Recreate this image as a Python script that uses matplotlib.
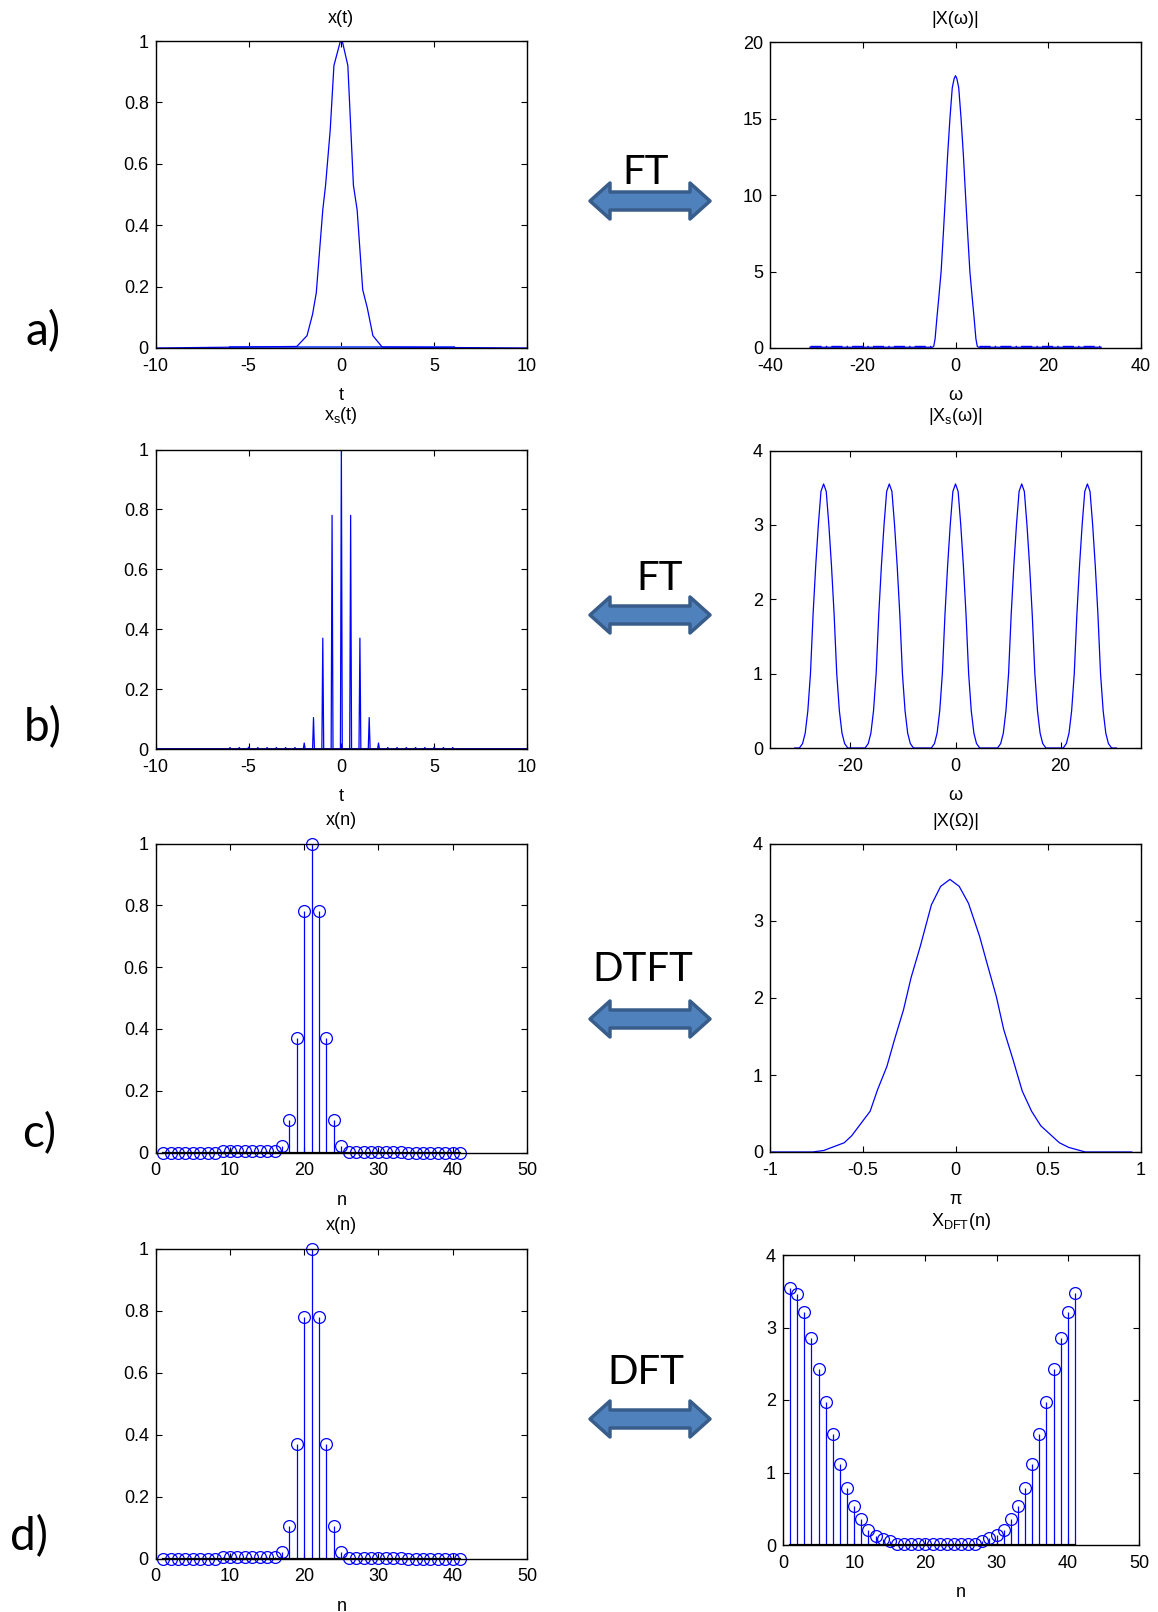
import matplotlib
matplotlib.use("Agg")
import matplotlib.pyplot as plt
import numpy as np
from matplotlib.patches import Polygon

# ---------------------------------------------------------------------------
# Data
# ---------------------------------------------------------------------------

# a) continuous Gaussian pulse x(t) (kinks of the drawn polyline)
t_cont = [-10, -2.4, -1.85, -1.55, -1.35, -1.0, -0.85, -0.6, -0.4, -0.05,
          0.05, 0.35, 0.65, 0.85, 1.15, 1.4, 1.7, 2.2, 10]
x_cont = [0, 0.005, 0.04, 0.11, 0.18, 0.45, 0.53, 0.71, 0.92, 1.0,
          1.0, 0.92, 0.53, 0.45, 0.19, 0.13, 0.04, 0.003, 0]
t_band = [-6, 6]
x_band = [0.003, 0.003]

# a) spectrum |X(w)|
w_cont = [-31.4, -5.0, -4.7, -4.4, -4.0, -3.6, -3.1, -2.6, -2.16, -1.7, -1.2,
          -0.7, -0.3, 0.0, 0.3, 0.7, 1.2, 1.7, 2.16, 2.6, 3.1, 3.6, 4.0, 4.4,
          4.7, 5.0, 31.4]
X_cont = [0.05, 0.05, 0.1, 0.6, 2.0, 3.3, 5.0, 7.6, 10.0, 12.6, 15.0,
          17.0, 17.6, 17.8, 17.6, 17.0, 15.0, 12.6, 10.0, 7.6, 5.0, 3.3, 2.0,
          0.6, 0.1, 0.05, 0.05]

# b) sampled signal x_s(t): sample instants and heights
t_samp = [-6.0, -5.5, -5.0, -4.5, -4.0, -3.5, -3.0, -2.5, -2.0, -1.5, -1.0,
          -0.5, 0.0, 0.5, 1.0, 1.5, 2.0, 2.5, 3.0, 3.5, 4.0, 4.5, 5.0, 5.5, 6.0]
x_samp = [0.005, 0.005, 0.006, 0.005, 0.005, 0.005, 0.005, 0.005, 0.02, 0.105,
          0.37, 0.78, 1.0, 0.78, 0.37, 0.105, 0.02, 0.005, 0.005, 0.005,
          0.005, 0.005, 0.006, 0.005, 0.005]

# b) periodic spectrum |X_s(w)|: replica centres and one replica's profile
rep_centres = [-25.1, -12.6, 0.0, 12.6, 25.1]
rep_offset = [-4.6, -4.0, -3.5, -3.0, -2.5, -2.0, -1.5, -1.0, -0.5, 0.0,
              0.5, 1.0, 1.5, 2.0, 2.5, 3.0, 3.5, 4.0, 4.6]
rep_value = [0.0, 0.06, 0.2, 0.5, 1.0, 1.8, 2.45, 3.0, 3.45, 3.55,
             3.45, 3.0, 2.45, 1.8, 1.0, 0.5, 0.2, 0.06, 0.0]
w_span = [-30.6, 30.6]

# c) / d) discrete sequence x(n)
n_idx = list(range(1, 42))
x_n = [0, 0, 0, 0, 0, 0, 0, 0, 0.005, 0.005, 0.005, 0.005, 0.005, 0.005, 0.005,
       0.005, 0.02, 0.105, 0.37, 0.78, 1.0, 0.78, 0.37, 0.105, 0.02, 0.003,
       0.003, 0.003, 0.003, 0.003, 0.003, 0.003, 0.003, 0, 0, 0, 0, 0, 0, 0, 0]

# c) DTFT magnitude |X(Omega)|, Omega in units of pi
om = [-1.0, -0.77, -0.71, -0.6, -0.56, -0.46, -0.42, -0.37, -0.33, -0.28,
      -0.24, -0.19, -0.13, -0.08, -0.03, 0.02, 0.07, 0.13, 0.17, 0.22, 0.26,
      0.31, 0.36, 0.41, 0.46, 0.56, 0.61, 0.7, 0.95]
X_om = [0.0, 0.0, 0.02, 0.12, 0.21, 0.53, 0.81, 1.11, 1.45, 1.85,
        2.26, 2.67, 3.21, 3.45, 3.54, 3.45, 3.23, 2.8, 2.45, 2.02, 1.59,
        1.2, 0.79, 0.53, 0.34, 0.12, 0.06, 0.0, 0.0]

# d) DFT magnitude
X_dft = [3.55, 3.46, 3.22, 2.86, 2.43, 1.97, 1.53, 1.12, 0.79, 0.54, 0.36,
         0.21, 0.12, 0.08, 0.05, 0.02, 0.02, 0.02, 0.02, 0.02, 0.02, 0.02,
         0.02, 0.02, 0.02, 0.02, 0.02, 0.05, 0.09, 0.14, 0.21, 0.36, 0.54,
         0.79, 1.12, 1.53, 1.97, 2.43, 2.86, 3.22, 3.47]

row_letters = ["a)", "b)", "c)", "d)"]
pair_names = ["FT", "FT", "DTFT", "DFT"]

# ---------------------------------------------------------------------------
# Figure
# ---------------------------------------------------------------------------
W, H = 1158, 1612
plt.rcParams["font.family"] = ["Liberation Sans", "DejaVu Sans"]
plt.rcParams["font.size"] = 13
plt.rcParams["mathtext.default"] = "regular"
plt.rcParams["axes.unicode_minus"] = False

fig = plt.figure(figsize=(W / 100, H / 100), dpi=100)
BLUE = "#0000ff"


def axes_px(left, top, right, bottom):
    """Add axes from pixel box (origin top-left)."""
    return fig.add_axes([left / W, 1 - bottom / H, (right - left) / W, (bottom - top) / H])


def style(ax, title, xlabel, title_pad=13):
    ax.tick_params(direction="in", top=True, right=True, length=4, width=0.8,
                   labelsize=13)
    ax.tick_params(axis="x", pad=7)
    ax.tick_params(axis="y", pad=5)
    for sp in ax.spines.values():
        sp.set_linewidth(1.0)
    ax.set_title(title, fontsize=13, pad=title_pad)
    ax.set_xlabel(xlabel, fontsize=13, labelpad=9)


def stem_plot(ax, x, y):
    markerline, stemlines, baseline = ax.stem(x, y, linefmt="-", markerfmt="o", basefmt="k-")
    markerline.set_color(BLUE)
    markerline.set_markerfacecolor("none")
    markerline.set_markersize(8.5)
    markerline.set_markeredgewidth(0.9)
    markerline.set_clip_on(False)
    stemlines.set_color(BLUE)
    stemlines.set_linewidth(0.9)
    baseline.set_linewidth(1.6)


L0, L1 = 155.7, 527
R0, R1 = 770, 1141
unit_ticks = [0, 0.2, 0.4, 0.6, 0.8, 1]
unit_labels = ["0", "0.2", "0.4", "0.6", "0.8", "1"]

# a) x(t)
ax = axes_px(L0, 41, L1, 348)
ax.plot(t_band, x_band, color="#4060ff", lw=2.2)
ax.plot(t_cont, x_cont, color=BLUE, lw=0.9)
ax.set_xlim(-10, 10)
ax.set_ylim(0, 1)
ax.set_xticks([-10, -5, 0, 5, 10])
ax.set_yticks(unit_ticks)
ax.set_yticklabels(unit_labels)
style(ax, "x(t)", "t")

# a) |X(w)|
ax = axes_px(R0, 42, R1, 348)
ax.plot(w_cont, X_cont, color=BLUE, lw=0.9)
ax.plot([w_cont[0], -5.0], [0.1, 0.1], color=BLUE, lw=1.0, ls=(0, (8, 3, 1, 3)))
ax.plot([5.0, w_cont[-1]], [0.1, 0.1], color=BLUE, lw=1.0, ls=(0, (8, 3, 1, 3)))
ax.set_xlim(-40, 40)
ax.set_ylim(0, 20)
ax.set_xticks([-40, -20, 0, 20, 40])
ax.set_yticks([0, 5, 10, 15, 20])
style(ax, "|X(ω)|", "ω")

# b) x_s(t): narrow spikes at the sample instants on a zero baseline
half = 0.05
sx, sy = [-10.0], [0.0]
for tk, vk in zip(t_samp, x_samp):
    sx += [tk - half, tk, tk + half]
    sy += [0.0, vk, 0.0]
sx.append(10.0)
sy.append(0.0)
ax = axes_px(L0, 449.5, L1, 749)
ax.plot(sx, sy, color=BLUE, lw=0.9)
ax.plot([-10, 10], [0, 0], color="#000088", lw=2.0)
ax.set_xlim(-10, 10)
ax.set_ylim(0, 1)
ax.set_xticks([-10, -5, 0, 5, 10])
ax.set_yticks(unit_ticks)
ax.set_yticklabels(unit_labels)
style(ax, "x$_s$(t)", "t", title_pad=21)

# b) |X_s(w)|
px, py = [w_span[0]], [0.0]
for c in rep_centres:
    px += [c + d for d in rep_offset]
    py += rep_value
px.append(w_span[1])
py.append(0.0)
ax = axes_px(R0, 450.5, R1, 748)
ax.plot(px, py, color=BLUE, lw=0.9)
ax.set_xlim(-35.3, 35.3)
ax.set_ylim(0, 4)
ax.set_xticks([-20, 0, 20])
ax.set_yticks([0, 1, 2, 3, 4])
style(ax, "|X$_s$(ω)|", "ω", title_pad=21)

# c) x(n)
ax = axes_px(L0, 843.5, L1, 1152.5)
stem_plot(ax, n_idx, x_n)
ax.set_xlim(0, 50)
ax.set_ylim(0, 1)
ax.set_xticks([0, 10, 20, 30, 40, 50])
ax.set_yticks(unit_ticks)
ax.set_yticklabels(unit_labels)
style(ax, "x(n)", "n")

# c) |X(Omega)|
ax = axes_px(R0, 844, R1, 1152)
ax.plot(om, X_om, color=BLUE, lw=0.9)
ax.set_xlim(-1, 1)
ax.set_ylim(0, 4)
ax.set_xticks([-1, -0.5, 0, 0.5, 1])
ax.set_xticklabels(["-1", "-0.5", "0", "0.5", "1"])
ax.set_yticks([0, 1, 2, 3, 4])
style(ax, "|X(Ω)|", "π")

# d) x(n)
ax = axes_px(L0, 1248.5, L1, 1558.5)
stem_plot(ax, n_idx, x_n)
ax.set_xlim(0, 50)
ax.set_ylim(0, 1)
ax.set_xticks([0, 10, 20, 30, 40, 50])
ax.set_yticks(unit_ticks)
ax.set_yticklabels(unit_labels)
style(ax, "x(n)", "n")

# d) X_DFT(n)
ax = axes_px(783, 1255, 1139, 1545)
stem_plot(ax, n_idx, X_dft)
ax.set_xlim(0, 50)
ax.set_ylim(0, 4)
ax.set_xticks([0, 10, 20, 30, 40, 50])
ax.set_yticks([0, 1, 2, 3, 4])
style(ax, "X$_{DFT}$(n)", "n", title_pad=21)

# ---------------------------------------------------------------------------
# Double arrows, transform names and row letters
# ---------------------------------------------------------------------------


def double_arrow(x0, x1, yc, head_len=20, head_h=18, shaft_h=9):
    pts = [(x0, yc), (x0 + head_len, yc - head_h), (x0 + head_len, yc - shaft_h),
           (x1 - head_len, yc - shaft_h), (x1 - head_len, yc - head_h), (x1, yc),
           (x1 - head_len, yc + head_h), (x1 - head_len, yc + shaft_h),
           (x0 + head_len, yc + shaft_h), (x0 + head_len, yc + head_h)]
    pts = [(x / W, 1 - y / H) for x, y in pts]
    fig.patches.append(Polygon(pts, closed=True, transform=fig.transFigure,
                               facecolor="#4f81bd", edgecolor="#385d8a",
                               linewidth=2.5, joinstyle="round"))


arrow_y = [201, 615, 1019, 1419]
name_xy = [(646, 173), (660, 579), (643, 969), (646, 1373)]
letter_xy = [(43, 332), (43, 728), (39, 1134), (29, 1537)]

for i in range(4):
    double_arrow(590, 710, arrow_y[i])
    fig.text(name_xy[i][0] / W, 1 - name_xy[i][1] / H, pair_names[i],
             family=["Lato", "DejaVu Sans"], fontsize=29, ha="center", va="center")
    fig.text(letter_xy[i][0] / W, 1 - letter_xy[i][1] / H, row_letters[i],
             family=["Lato", "DejaVu Sans"], fontsize=33, ha="center", va="center")

fig.savefig("out.png", dpi=100, facecolor="white")
